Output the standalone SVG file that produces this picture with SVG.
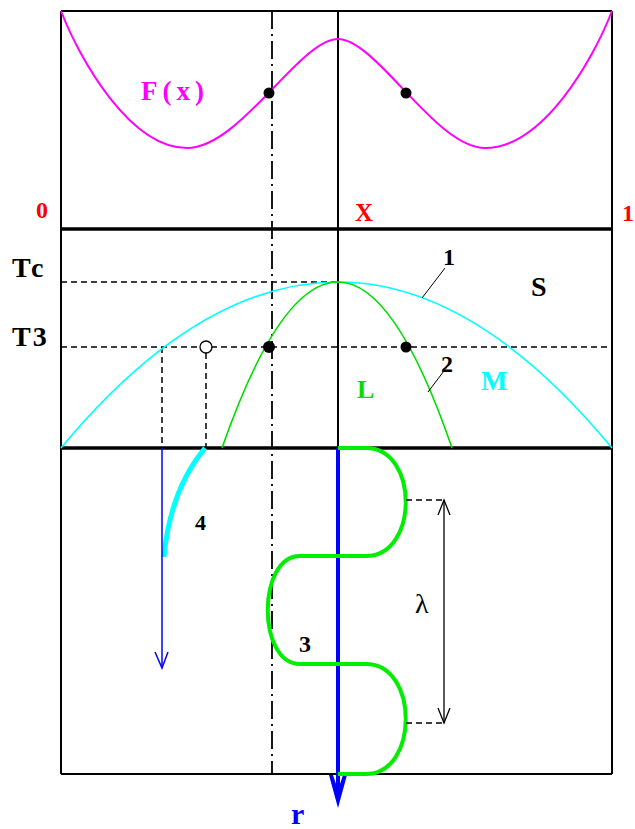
<svg xmlns="http://www.w3.org/2000/svg" width="635" height="829" viewBox="0 0 635 829">
<style>
.frame{stroke:#000;stroke-width:2;fill:none}
.thick{stroke:#000;stroke-width:3.5;fill:none}
.dash{stroke:#000;stroke-width:1.5;stroke-dasharray:6,4;fill:none}
.dashdot{stroke:#000;stroke-width:1.8;stroke-dasharray:18,5,2,5;fill:none}
.lbl{font-family:"Liberation Serif",serif;font-weight:bold}
</style>
<g id="frame">
<line class="frame" x1="61" y1="11" x2="612" y2="11"/>
<line class="frame" x1="61" y1="11" x2="61" y2="774"/>
<line class="frame" x1="612" y1="11" x2="612" y2="774"/>
<line class="frame" x1="61" y1="774" x2="612" y2="774"/>
<line class="thick" x1="60" y1="229" x2="612" y2="229"/>
<line class="thick" x1="60" y1="448" x2="612" y2="448"/>
<line class="frame" x1="338" y1="11" x2="338" y2="448"/>
<line class="dashdot" x1="272" y1="11" x2="272" y2="774"/>
</g>
<g id="Fx">
<path d="M61,11 C80,60 130,148 187,148 C240,148 300,39 338,39 C376,39 436,148 485,148 C543,148 593,60 612,11" stroke="#ff00ff" stroke-width="2" fill="none"/>
<circle cx="269" cy="93" r="5.5" fill="#000"/>
<circle cx="406" cy="93" r="5.5" fill="#000"/>
<text class="lbl" x="141" y="100" font-size="27" fill="#ff00ff" letter-spacing="5">F(x)</text>
<text class="lbl" x="36" y="218" font-size="24" fill="#ff0000">0</text>
<text class="lbl" x="355" y="221" font-size="25" fill="#ff0000">X</text>
<text class="lbl" x="622" y="221" font-size="24" fill="#ff0000">1</text>
</g>
<g id="phase">
<line class="dash" x1="61" y1="282" x2="338" y2="282"/>
<line class="dash" x1="61" y1="347" x2="612" y2="347"/>
<line class="dash" x1="162" y1="347" x2="162" y2="448"/>
<line class="dash" x1="206" y1="353" x2="206" y2="448"/>
<path d="M61,448 Q199,282 338,282 Q475,282 612,448" stroke="#00ffff" stroke-width="1.6" fill="none"/>
<path d="M222,448 Q280,282 338,282 Q395,282 452,448" stroke="#00dd00" stroke-width="1.6" fill="none"/>
<circle cx="269" cy="347" r="6" fill="#000"/>
<circle cx="406" cy="347" r="5.5" fill="#000"/>
<circle cx="206" cy="347" r="6" fill="#fff" stroke="#000" stroke-width="1.3"/>
<line x1="445" y1="268" x2="422" y2="298" stroke="#000" stroke-width="1"/>
<line x1="447" y1="367" x2="428" y2="392" stroke="#000" stroke-width="1"/>
<text class="lbl" x="12" y="277" font-size="28" fill="#000" letter-spacing="3">Tc</text>
<text class="lbl" x="12" y="346" font-size="28" fill="#000" letter-spacing="2">T3</text>
<text class="lbl" x="443" y="265" font-size="24" fill="#000">1</text>
<text class="lbl" x="441" y="372" font-size="24" fill="#000">2</text>
<text class="lbl" x="531" y="296" font-size="28" fill="#000">S</text>
<text class="lbl" x="357" y="398" font-size="26" fill="#00dd00">L</text>
<text class="lbl" x="481" y="390" font-size="28" fill="#00ffff">M</text>
</g>
<g id="growth">
<line x1="338" y1="448" x2="338" y2="790" stroke="#0000ff" stroke-width="4"/>
<polygon points="329,775 333,775 338,790 343,775 347,775 338,808" fill="#0000ff"/>
<path d="M338,448 L366,448 C419,448 419,556 366,556 L300,556 C257,556 257,664 300,664 L366,664 C419,664 419,774 366,774 L338,774" stroke="#00ee00" stroke-width="4" fill="none"/>
<path d="M205,448 Q170,490 164,557" stroke="#00ffff" stroke-width="5" fill="none"/>
<line x1="162" y1="448" x2="162" y2="668" stroke="#0000ff" stroke-width="1.5"/>
<polyline points="155,652 162,668 168,652" stroke="#0000ff" stroke-width="1.5" fill="none"/>
<line class="dash" x1="406" y1="500" x2="444" y2="500"/>
<line class="dash" x1="406" y1="723" x2="444" y2="723"/>
<line x1="444" y1="500" x2="444" y2="723" stroke="#000" stroke-width="1.3"/>
<polyline points="438,515 444,500 450,515" stroke="#000" stroke-width="1.3" fill="none"/>
<polyline points="438,708 444,723 450,708" stroke="#000" stroke-width="1.3" fill="none"/>
<text x="415" y="613" font-family="'Liberation Serif',serif" font-size="28" fill="#000">λ</text>
<text class="lbl" x="195" y="530" font-size="22" fill="#000">4</text>
<text class="lbl" x="299" y="652" font-size="24" fill="#000">3</text>
<text class="lbl" x="291" y="824" font-size="30" fill="#0000ff">r</text>
</g>
</svg>
